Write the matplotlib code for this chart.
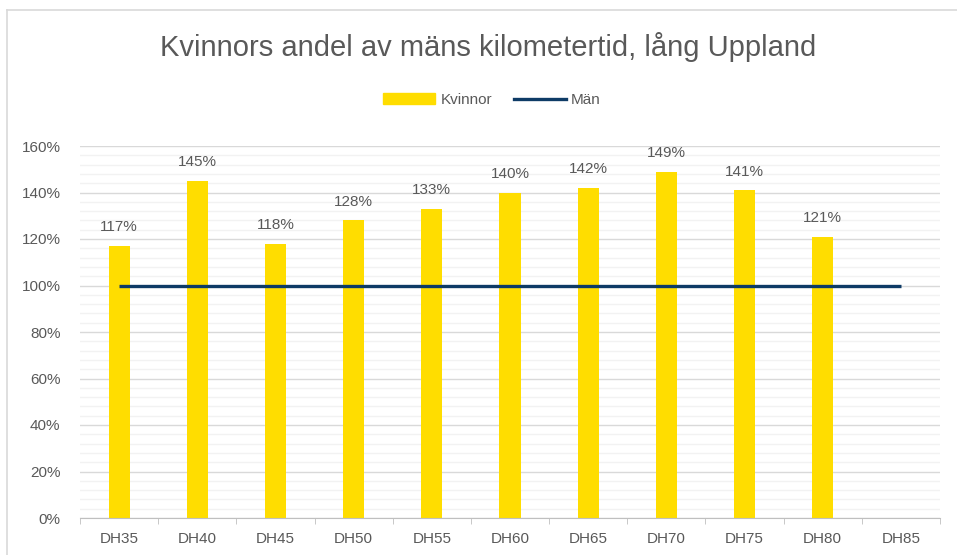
import matplotlib.pyplot as plt
import numpy as np
from matplotlib.patches import Rectangle
from matplotlib.lines import Line2D

categories = ["DH35", "DH40", "DH45", "DH50", "DH55", "DH60",
              "DH65", "DH70", "DH75", "DH80", "DH85"]
kvinnor = [117, 145, 118, 128, 133, 140, 142, 149, 141, 121, None]
man = [100, 100, 100, 100, 100, 100, 100, 100, 100, 100, 100]
y_ticks = [0, 20, 40, 60, 80, 100, 120, 140, 160]

BAR_COLOR = "#FFDD00"
LINE_COLOR = "#0E3B66"
TEXT_COLOR = "#595959"

plt.rcParams["font.family"] = ["Liberation Sans", "DejaVu Sans"]

fig = plt.figure(figsize=(9.57, 5.55), dpi=100)
W, H = 957, 555
ax = fig.add_axes([80 / W, 1 - 518 / H, 860 / W, (518 - 146) / H])

x = np.arange(len(categories))
bar_x = [i for i, v in zip(x, kvinnor) if v is not None]
bar_v = [v for v in kvinnor if v is not None]
ax.bar(bar_x, bar_v, width=0.27, color=BAR_COLOR, zorder=2)
ax.plot(x, man, color=LINE_COLOR, linewidth=2.4, zorder=3,
        solid_capstyle="butt")

for xi, v in zip(bar_x, bar_v):
    ax.text(xi, v + 5, f"{v}%", ha="center", va="bottom",
            fontsize=11, color=TEXT_COLOR)

ax.set_xlim(-0.5, len(categories) - 0.5)
ax.set_ylim(0, 160)
ax.set_yticks(y_ticks)
ax.set_yticklabels([f"{t}%" for t in y_ticks])
ax.set_yticks(np.arange(0, 161, 4), minor=True)
ax.set_xticks(x)
ax.set_xticklabels(categories)

ax.grid(axis="y", which="major", color="#D9D9D9", linewidth=1.0, zorder=0)
ax.grid(axis="y", which="minor", color="#F2F2F2", linewidth=1.0, zorder=0)
ax.set_axisbelow(True)

for side in ["top", "right", "left"]:
    ax.spines[side].set_visible(False)
ax.spines["bottom"].set_color("#BFBFBF")
ax.tick_params(axis="y", which="both", length=0, labelsize=11,
               labelcolor=TEXT_COLOR, pad=14)
ax.tick_params(axis="x", which="major", length=0, labelsize=11,
               labelcolor=TEXT_COLOR, pad=10)

# boundary ticks between categories
ax.set_xticks(np.arange(-0.5, len(categories), 1), minor=True)
ax.tick_params(axis="x", which="minor", length=4, color="#BFBFBF")

fig.text(488 / W, 1 - 47 / H, "Kvinnors andel av mäns kilometertid, lång Uppland",
         ha="center", va="center", fontsize=21, color=TEXT_COLOR)

handles = [Rectangle((0, 0), 1, 1, color=BAR_COLOR),
           Line2D([0], [0], color=LINE_COLOR, linewidth=2.4)]
fig.legend(handles, ["Kvinnor", "Män"], loc="center",
           bbox_to_anchor=(492 / W, 1 - 100 / H), ncol=2, frameon=False,
           fontsize=11, labelcolor=TEXT_COLOR, handlelength=3.4,
           handleheight=0.7, columnspacing=1.4, handletextpad=0.35)

fig.add_artist(Line2D([7.5 / W, 7.5 / W], [0, 1 - 10 / H],
                      color="#D9D9D9", linewidth=1.2,
                      transform=fig.transFigure))
fig.add_artist(Line2D([7.5 / W, 1], [1 - 10 / H, 1 - 10 / H],
                      color="#D9D9D9", linewidth=1.2,
                      transform=fig.transFigure))

fig.savefig("out.png", dpi=100)
